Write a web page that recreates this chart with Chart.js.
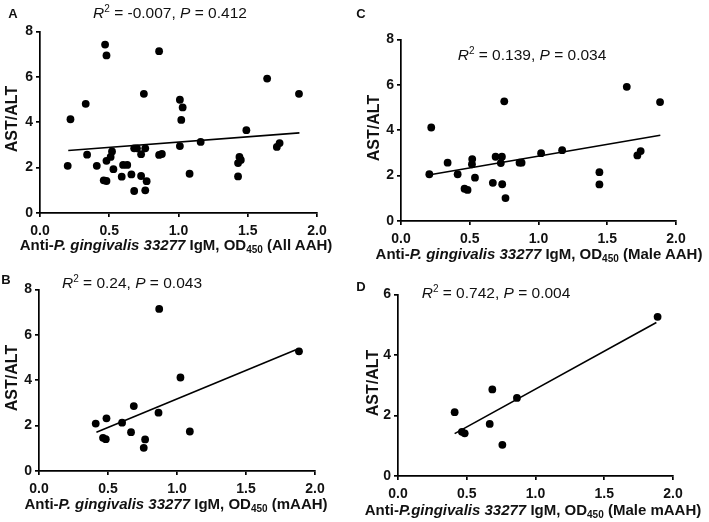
<!DOCTYPE html>
<html>
<head>
<meta charset="utf-8">
<script src="https://cdn.jsdelivr.net/npm/chart.js@4/dist/chart.umd.min.js"></script>
<style>
  html, body { margin:0; padding:0; background:#fff; }
  body { width:709px; height:522px; position:relative; overflow:hidden; font-family:"Liberation Sans", Arial, sans-serif; color:#111; }
  canvas { position:absolute; }
  .t { position:absolute; transform:translate(-50%,-50%); white-space:nowrap; line-height:1; }
  .letter { font-weight:bold; font-size:13px; }
  .ann { font-size:15.5px; }
  .ann sup { font-size:10px; vertical-align:6px; line-height:0; }
  .ytitle { font-weight:bold; font-size:16px; transform:translate(-50%,-50%) rotate(-90deg); }
  .xtitle { font-weight:bold; font-size:15px; }
  .xtitle sub { font-size:10px; vertical-align:-3px; line-height:0; }
</style>
</head>
<body>
<canvas id="cA"></canvas>
<canvas id="cB"></canvas>
<canvas id="cC"></canvas>
<canvas id="cD"></canvas>

<div class="t letter" style="left:13px;top:13px;">A</div>
<div class="t letter" style="left:361px;top:13px;">C</div>
<div class="t letter" style="left:6px;top:279px;">B</div>
<div class="t letter" style="left:361px;top:286px;">D</div>

<div class="t ann" style="left:170px;top:13px;"><i>R</i><sup>2</sup> = -0.007, <i>P</i> = 0.412</div>
<div class="t ann" style="left:532px;top:55px;"><i>R</i><sup>2</sup> = 0.139, <i>P</i> = 0.034</div>
<div class="t ann" style="left:132px;top:283px;"><i>R</i><sup>2</sup> = 0.24, <i>P</i> = 0.043</div>
<div class="t ann" style="left:496px;top:293px;"><i>R</i><sup>2</sup> = 0.742, <i>P</i> = 0.004</div>

<div class="t ytitle" style="left:12px;top:119px;">AST/ALT</div>
<div class="t ytitle" style="left:374px;top:128px;">AST/ALT</div>
<div class="t ytitle" style="left:12px;top:378px;">AST/ALT</div>
<div class="t ytitle" style="left:373px;top:383px;">AST/ALT</div>

<div class="t xtitle" style="left:176px;top:244px;">Anti-<i>P. gingivalis 33277</i> IgM, OD<sub>450</sub> (All AAH)</div>
<div class="t xtitle" style="left:539px;top:253px;">Anti-<i>P. gingivalis 33277</i> IgM, OD<sub>450</sub> (Male AAH)</div>
<div class="t xtitle" style="left:176px;top:503px;">Anti-<i>P. gingivalis 33277</i> IgM, OD<sub>450</sub> (mAAH)</div>
<div class="t xtitle" style="left:533px;top:509px;">Anti-<i>P.gingivalis 33277</i> IgM, OD<sub>450</sub> (Male mAAH)</div>

<script>
// ---- Data ----
const xTicks = [0, 0.5, 1.0, 1.5, 2.0];

// Panel A: All AAH
const xA = [0.20,0.22,0.33,0.34,0.41,0.47,0.48,0.46,0.48,0.48,0.51,0.52,0.53,0.59,0.60,0.63,0.66,0.68,0.68,0.70,0.73,0.73,0.75,0.76,0.77,0.76,0.86,0.86,0.88,1.01,1.03,1.02,1.01,1.08,1.16,1.43,1.43,1.44,1.45,1.49,1.64,1.71,1.73,1.87];
const yA = [2.08,4.13,4.81,2.57,2.08,7.42,6.94,1.44,1.41,2.30,2.47,2.71,1.93,1.60,2.12,2.12,1.70,0.97,2.85,2.85,2.59,1.63,5.25,1.00,1.40,2.85,7.13,2.56,2.60,4.99,4.65,4.10,2.95,1.73,3.13,1.61,2.20,2.47,2.34,3.65,5.92,2.91,3.08,5.25];
const fitXA = [0.204, 1.873];
const fitYA = [2.75, 3.53];

// Panel C: Male AAH
const xC = [0.206,0.220,0.339,0.412,0.462,0.484,0.518,0.516,0.538,0.668,0.688,0.734,0.726,0.736,0.751,0.760,0.862,0.877,1.019,1.172,1.443,1.443,1.642,1.719,1.743,1.884];
const yC = [2.06,4.12,2.57,2.06,1.42,1.37,2.73,2.50,1.91,1.68,2.83,2.83,2.55,1.62,5.27,1.01,2.57,2.57,2.99,3.12,2.15,1.61,5.91,2.89,3.08,5.24];
const fitXC = [0.20, 1.886];
const fitYC = [2.03, 3.78];

// Panel B: mAAH
const xB = [0.411,0.464,0.484,0.489,0.602,0.667,0.687,0.759,0.769,0.866,0.871,1.025,1.093,1.884];
const yB = [2.09,1.46,1.40,2.32,2.13,1.71,2.86,1.02,1.39,2.57,7.14,4.12,1.74,5.27];
const fitXB = [0.416, 1.862];
const fitYB = [1.71, 5.34];

// Panel D: Male mAAH
const xD = [0.412,0.465,0.485,0.667,0.686,0.759,0.865,1.888];
const yD = [2.11,1.46,1.41,1.72,2.86,1.03,2.58,5.26];
const fitXD = [0.412, 1.879];
const fitYD = [1.40, 5.07];

// ---- Layout ----
const Y_W = 39, PAD_T = 10, PAD_R = 22, X_H = 30;

function makePanel(id, area, xs, ys, fx, fy, yMax) {
  const cv = document.getElementById(id);
  const w = Y_W + (area.R - area.L) + PAD_R;
  const h = PAD_T + (area.B - area.T) + X_H;
  cv.style.left = (area.L - Y_W) + 'px';
  cv.style.top = (area.T - PAD_T) + 'px';
  cv.style.width = w + 'px';
  cv.style.height = h + 'px';
  cv.width = w; cv.height = h;
  const pts = xs.map((x, i) => ({x: x, y: ys[i]}));
  const fit = fx.map((x, i) => ({x: x, y: fy[i]}));
  const tickFont = {family: '"Liberation Sans", Arial, sans-serif', size: 14, weight: 'bold'};
  new Chart(cv, {
    type: 'scatter',
    data: {
      datasets: [
        {data: pts, backgroundColor: '#000', borderColor: '#000', pointRadius: 3.9, pointBorderWidth: 0, pointHoverRadius: 3.9},
        {data: fit, showLine: true, borderColor: '#000', borderWidth: 1.6, pointRadius: 0, fill: false}
      ]
    },
    options: {
      responsive: false,
      animation: false,
      events: [],
      layout: {padding: {top: PAD_T, right: PAD_R, left: 0, bottom: 0}},
      plugins: {legend: {display: false}, tooltip: {enabled: false}},
      scales: {
        x: {
          type: 'linear', min: 0, max: 2,
          afterBuildTicks: s => { s.ticks = xTicks.map(v => ({value: v})); },
          afterFit: s => { s.height = X_H; },
          border: {color: '#000', width: 1.7},
          grid: {display: true, drawOnChartArea: false, drawTicks: true, tickLength: 4, color: '#000', lineWidth: 1.7},
          ticks: {color: '#111', font: tickFont, padding: 6, maxRotation: 0, callback: v => Number(v).toFixed(1)}
        },
        y: {
          type: 'linear', min: 0, max: yMax,
          ticks: {stepSize: 2, color: '#111', font: tickFont, padding: 3},
          afterFit: s => { s.width = Y_W; },
          border: {color: '#000', width: 1.7},
          grid: {display: true, drawOnChartArea: false, drawTicks: true, tickLength: 4, color: '#000', lineWidth: 1.7}
        }
      }
    }
  });
}

makePanel('cA', {L: 40, T: 30, R: 317, B: 213}, xA, yA, fitXA, fitYA, 8);
makePanel('cC', {L: 401, T: 38, R: 676, B: 221}, xC, yC, fitXC, fitYC, 8);
makePanel('cB', {L: 39, T: 288, R: 315, B: 471}, xB, yB, fitXB, fitYB, 8);
makePanel('cD', {L: 398, T: 293, R: 673, B: 476}, xD, yD, fitXD, fitYD, 6);
</script>
</body>
</html>
